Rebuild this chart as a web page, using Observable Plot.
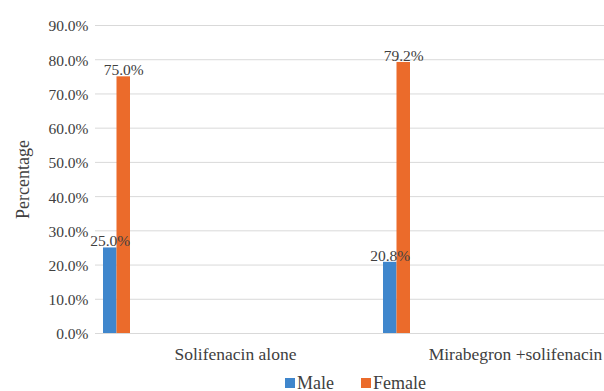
<!DOCTYPE html>
<html><head><meta charset="utf-8">
<script src="https://cdn.jsdelivr.net/npm/d3@7"></script>
<script src="https://cdn.jsdelivr.net/npm/@observablehq/plot@0.6"></script>
<style>
body{margin:0;background:#fff;font-family:"Liberation Serif",serif;color:#404040;width:604px;overflow:hidden;}
#legend{position:relative;height:21px;margin-top:2.5px;font-size:18px;line-height:21px;}
.item{position:absolute;top:0;height:21px;display:flex;align-items:center;}
.sw{width:10px;height:10px;margin-right:2px;display:inline-block;}
</style></head><body><div id="chart"></div><div id="legend"></div>
<script>
const categories = ["Solifenacin alone", "Mirabegron +solifenacin"];
const seriesNames = ["Male", "Female"];
const maleValues = [0.25, 0.208];
const femaleValues = [0.75, 0.792];
const yTicks = [0, 0.1, 0.2, 0.3, 0.4, 0.5, 0.6, 0.7, 0.8, 0.9];
const seriesColors = ["#3f86cc", "#eb6b2b"];

const data = categories.flatMap((c, i) => [
  {category: c, sex: seriesNames[0], value: maleValues[i]},
  {category: c, sex: seriesNames[1], value: femaleValues[i]}
]);
const fmt = d3.format(".1%");
const band = 280;
const bw = 13.5;
const offs = {Male: 8, Female: 8 + bw};
const serif = "'Liberation Serif', serif";

const barsFor = (s) => Plot.barY(data.filter(d => d.sex === s), {
  x: "category", y: "value", fill: seriesColors[seriesNames.indexOf(s)],
  insetLeft: offs[s], insetRight: band - offs[s] - bw
});
const labelsFor = (s) => Plot.text(data.filter(d => d.sex === s), {
  x: "category", y: "value", text: d => fmt(d.value),
  dx: offs[s] + bw / 2 - band / 2, dy: -1.5, lineAnchor: "bottom",
  fontSize: 15.5, fontFamily: serif, fill: "#404040"
});

const chart = Plot.plot({
  width: 604, height: 370,
  marginLeft: 95, marginRight: 0, marginTop: 25, marginBottom: 37,
  style: {fontFamily: serif, fontSize: "15px", color: "#404040", background: "#fff"},
  x: {type: "band", domain: categories, range: [95, 655], padding: 0},
  y: {domain: [0, 0.9], range: [333, 25]},
  marks: [
    Plot.ruleY(yTicks, {stroke: "#d9d9d9", strokeWidth: 1}),
    Plot.axisY({ticks: yTicks, tickFormat: fmt, tickSize: 0, tickPadding: 7, fontSize: 15.5, fontFamily: serif, dy: 1,
      label: null}),
    Plot.axisY({ticks: [], tickSize: 0, fontSize: 18, fontFamily: serif,
      label: "Percentage", labelAnchor: "center", labelArrow: "none", labelOffset: 79}),
    Plot.axisX({tickSize: 0, tickPadding: 14, fontSize: 17.5, fontFamily: serif, label: null}),
    barsFor("Male"), barsFor("Female"),
    labelsFor("Male"), labelsFor("Female")
  ]
});
document.getElementById("chart").appendChild(chart);

const legend = document.getElementById("legend");
const lefts = [285, 361];
seriesNames.forEach((s, i) => {
  const it = document.createElement("div");
  it.className = "item";
  it.style.left = lefts[i] + "px";
  it.innerHTML = `<span class="sw" style="background:${seriesColors[i]}"></span><span>${s}</span>`;
  legend.appendChild(it);
});
</script></body></html>
